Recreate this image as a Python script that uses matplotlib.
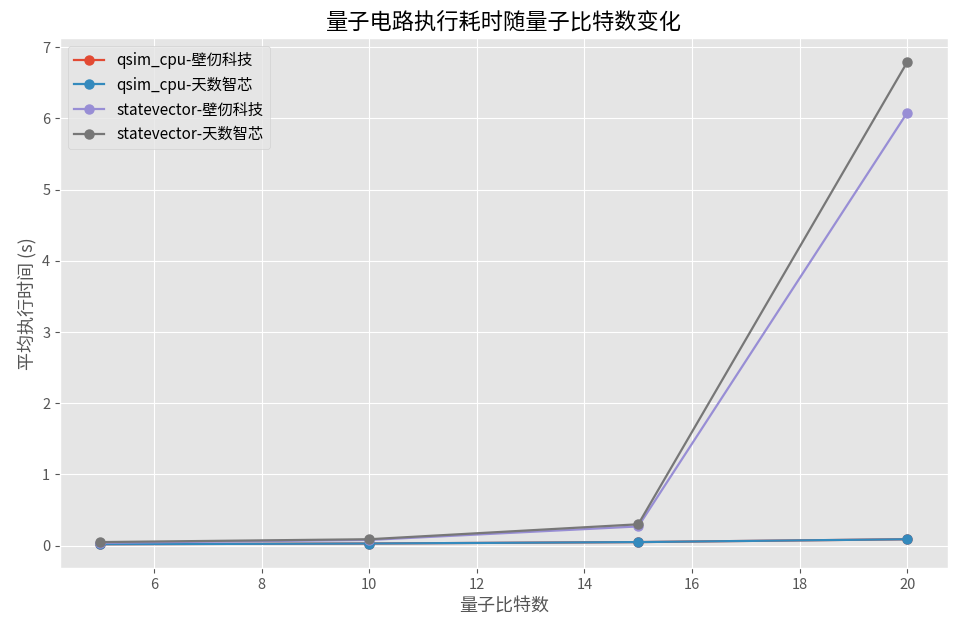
import matplotlib
matplotlib.use("Agg")
import matplotlib.pyplot as plt

plt.style.use("ggplot")
plt.rcParams['font.family'] = ['Noto Sans CJK SC', 'DejaVu Sans']
plt.rcParams['axes.unicode_minus'] = False

qubits = [5, 10, 15, 20]
qsim_biren = [0.02, 0.03, 0.05, 0.09]
qsim_tianshu = [0.02, 0.03, 0.05, 0.09]
sv_biren = [0.04, 0.08, 0.27, 6.08]
sv_tianshu = [0.05, 0.09, 0.30, 6.79]

series = [
    ("qsim_cpu-壁仞科技", qsim_biren),
    ("qsim_cpu-天数智芯", qsim_tianshu),
    ("statevector-壁仞科技", sv_biren),
    ("statevector-天数智芯", sv_tianshu),
]

fig, ax = plt.subplots(figsize=(9.6, 6.35), dpi=100)
for label, vals in series:
    ax.plot(qubits, vals, marker='o', label=label, linewidth=1.6, markersize=6.5)

ax.set_title("量子电路执行耗时随量子比特数变化", fontsize=16)
ax.set_xlabel("量子比特数", fontsize=13)
ax.set_ylabel("平均执行时间 (s)", fontsize=13)
ax.tick_params(labelsize=10.5)
ax.legend(loc='upper left', fontsize=11)
fig.subplots_adjust(left=0.0625, right=0.987, top=0.94, bottom=0.105)
fig.savefig("out.png", dpi=100)
